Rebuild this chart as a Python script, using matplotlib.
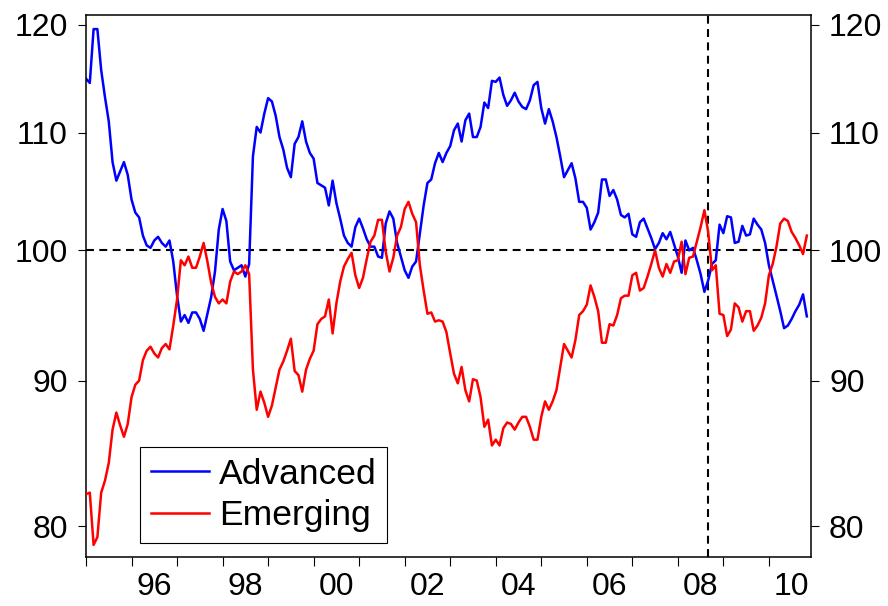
import numpy as np
import matplotlib
matplotlib.use("Agg")
import matplotlib.pyplot as plt
from matplotlib.ticker import FixedLocator, FixedFormatter, NullLocator

plt.rcParams['font.family'] = ['Liberation Sans', 'DejaVu Sans']

# Monthly data, Jan 1995 .. Nov 2010
start_year = 1995
advanced = [
    114.9, 114.5, 119.6, 119.6, 115.7, 113.2, 111.0, 107.4, 105.8, 106.6,
    107.4, 106.3, 104.2, 103.1, 102.7, 101.2, 100.4, 100.2, 100.8, 101.1,
    100.6, 100.3, 100.8, 99.1, 96.4, 94.4, 94.9, 94.3, 95.1, 95.1,
    94.6, 93.7, 95.0, 96.3, 98.3, 101.7, 103.4, 102.4, 99.1, 98.4,
    98.6, 98.8, 97.9, 98.9, 107.9, 110.5, 110.0, 111.7, 113.1, 112.8,
    111.5, 109.6, 108.5, 106.9, 106.1, 109.0, 109.6, 111.0, 109.2, 108.2,
    107.7, 105.6, 105.4, 105.2, 103.7, 105.8, 103.9, 102.6, 101.2, 100.6,
    100.3, 101.9, 102.6, 101.8, 100.9, 100.3, 100.3, 99.5, 99.4, 102.2,
    103.2, 102.6, 100.6, 99.5, 98.4, 97.8, 98.7, 99.1, 101.4, 103.7,
    105.6, 105.9, 107.3, 108.2, 107.4, 108.2, 108.8, 110.2, 110.8, 109.2,
    111.1, 111.7, 109.6, 109.6, 110.5, 112.7, 112.2, 114.7, 114.6, 115.0,
    113.4, 112.4, 112.9, 113.6, 112.8, 112.3, 112.1, 112.9, 114.3, 114.6,
    112.2, 110.8, 112.1, 111.0, 109.6, 107.9, 106.1, 106.7, 107.3, 106.0,
    104.0, 104.0, 103.5, 101.7, 102.3, 103.1, 105.9, 105.9, 104.5, 105.0,
    104.2, 102.9, 102.7, 103.0, 101.3, 101.1, 102.3, 102.6, 101.8, 101.0,
    100.1, 100.6, 101.4, 100.9, 101.5, 100.5, 99.5, 98.2, 100.8, 100.0,
    100.2, 99.2, 98.1, 96.7, 97.6, 98.9, 99.2, 102.1, 101.4, 102.8,
    102.7, 100.6, 100.7, 102.0, 101.2, 101.3, 102.6, 102.1, 101.7, 100.6,
    98.8, 97.6, 96.4, 95.2, 93.9, 94.1, 94.6, 95.2, 95.7, 96.5,
    94.8,
]
emerging = [
    82.1, 82.2, 78.8, 79.3, 82.2, 83.0, 84.2, 86.5, 87.7, 86.8,
    86.0, 86.9, 88.8, 89.7, 90.0, 91.5, 92.2, 92.5, 92.0, 91.7,
    92.4, 92.7, 92.3, 94.1, 96.1, 99.2, 98.8, 99.5, 98.6, 98.6,
    99.5, 100.6, 99.1, 97.4, 96.3, 95.8, 96.1, 95.8, 97.5, 98.3,
    98.1, 98.3, 98.8, 98.1, 90.8, 87.9, 89.2, 88.4, 87.4, 88.2,
    89.5, 90.8, 91.4, 92.2, 93.1, 90.7, 90.4, 89.2, 90.8, 91.6,
    92.2, 94.2, 94.6, 94.8, 96.1, 93.5, 95.8, 97.5, 98.7, 99.3,
    99.8, 98.0, 97.0, 97.8, 99.3, 100.7, 101.2, 102.5, 102.5, 99.9,
    98.3, 99.4, 101.2, 101.9, 103.4, 104.0, 103.0, 102.3, 98.8, 96.8,
    95.0, 95.1, 94.4, 94.5, 94.4, 93.6, 92.0, 90.5, 89.8, 91.0,
    89.3, 88.5, 90.1, 90.0, 88.8, 86.7, 87.2, 85.4, 85.8, 85.4,
    86.6, 87.0, 86.9, 86.5, 87.0, 87.4, 87.4, 86.7, 85.8, 85.8,
    87.4, 88.5, 87.9, 88.5, 89.3, 91.0, 92.7, 92.2, 91.7, 93.0,
    94.9, 95.2, 95.7, 97.2, 96.3, 95.2, 92.8, 92.8, 94.2, 94.1,
    94.9, 96.2, 96.4, 96.4, 98.0, 98.2, 96.8, 97.0, 97.9, 98.9,
    100.0, 98.6, 97.9, 98.9, 98.2, 99.1, 99.2, 100.7, 98.1, 99.4,
    99.5, 100.7, 101.9, 103.3, 101.5, 98.4, 98.8, 95.0, 94.9, 93.3,
    93.8, 95.8, 95.5, 94.4, 95.2, 95.2, 93.7, 94.1, 94.7, 95.8,
    98.0, 98.9, 100.3, 102.2, 102.6, 102.4, 101.5, 101.0, 100.4, 99.7,
    101.2,
]
series_names = ["Advanced", "Emerging"]
series_colors = ["#0000FF", "#FF0000"]
ytick_values = [80, 90, 100, 110, 120]
year_labels = ["96", "98", "00", "02", "04", "06", "08", "10"]
label_years = [1996, 1998, 2000, 2002, 2004, 2006, 2008, 2010]
tick_years = list(range(1995, 2011))
event_year, event_month = 2008, 9   # September 2008
ref_level = 100

n = len(advanced)
t = start_year + np.arange(n) / 12.0

fig = plt.figure(figsize=(8.88, 6.06), dpi=100)
ax = fig.add_axes([86/888, 1-556.7/606, (811-86)/888, (556.7-14.7)/606])

ax.set_yscale('log')
ax.set_xlim(1995.0, 1995 + 15.925)
ax.set_ylim(78.05, 121.0)

dash = (0, (3.8, 2.6))
ax.axhline(ref_level, color='black', lw=1.5, linestyle=dash, zorder=1)
ax.axvline(event_year + (event_month - 1) / 12.0, color='black', lw=1.5, linestyle=dash, zorder=1)

ax.plot(t, advanced, color=series_colors[0], lw=1.8, label=series_names[0], zorder=2)
ax.plot(t, emerging, color=series_colors[1], lw=1.8, label=series_names[1], zorder=3)

# y axis ticks on both sides
ax.yaxis.set_major_locator(FixedLocator(ytick_values))
ax.yaxis.set_major_formatter(FixedFormatter([str(v) for v in ytick_values]))
ax.yaxis.set_minor_locator(NullLocator())
ax.tick_params(axis='y', which='major', left=True, right=True, labelleft=True,
               labelright=True, direction='out', length=6, width=0.8,
               pad=7, labelsize=23)

# x axis: yearly ticks, labels mid-year
ax.xaxis.set_major_locator(FixedLocator(tick_years))
ax.xaxis.set_major_formatter(FixedFormatter([""] * len(tick_years)))
ax.xaxis.set_minor_locator(FixedLocator([y + 0.5 for y in label_years]))
ax.xaxis.set_minor_formatter(FixedFormatter(year_labels))
ax.tick_params(axis='x', which='major', direction='out', length=6.5, width=0.8)
ax.tick_params(axis='x', which='minor', length=0, pad=11, labelsize=23)

for s in ax.spines.values():
    s.set_linewidth(1.1)
    s.set_color('black')

leg = ax.legend(loc='lower left', bbox_to_anchor=(0.0745, 0.0253), borderaxespad=0,
                fontsize=25.5, frameon=True, fancybox=False, shadow=False,
                handlelength=1.65, handletextpad=0.28, labelspacing=0.25,
                borderpad=0.3)
leg.get_frame().set_edgecolor('black')
leg.get_frame().set_linewidth(0.8)
leg.get_frame().set_alpha(1)
for h in leg.get_lines():
    h.set_linewidth(1.8)

fig.savefig("out.png", dpi=100)
